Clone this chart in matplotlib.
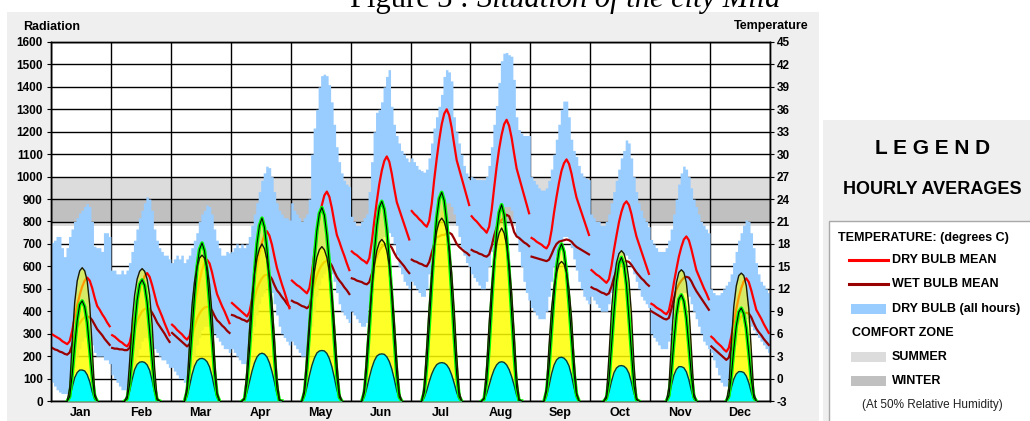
import matplotlib
matplotlib.use("Agg")
import matplotlib.pyplot as plt
from matplotlib.patches import Rectangle
import numpy as np

months = ["Jan", "Feb", "Mar", "Apr", "May", "Jun",
          "Jul", "Aug", "Sep", "Oct", "Nov", "Dec"]

# hourly averages per month, hour 0..23, degrees C
dry_mean = [
    [5.9, 5.7, 5.5, 5.3, 5.0, 4.8, 4.6, 5.0, 6.4, 8.2, 9.8, 11.2, 12.3, 13.1, 13.5, 13.1, 12.1, 10.8, 9.7, 9.2, 8.6, 8.1, 7.5, 7.0],
    [5.8, 5.6, 5.3, 5.0, 4.8, 4.5, 4.3, 4.8, 6.3, 8.2, 10.0, 11.6, 12.8, 13.7, 14.1, 13.6, 12.5, 11.2, 9.9, 9.1, 8.3, 7.4, 6.6, 5.8],
    [7.2, 6.9, 6.5, 6.2, 5.9, 5.5, 5.2, 5.7, 7.3, 9.5, 11.4, 13.1, 14.5, 15.5, 15.9, 15.4, 14.2, 12.7, 11.3, 10.5, 9.7, 9.0, 8.2, 7.4],
    [10.1, 9.8, 9.5, 9.2, 8.9, 8.6, 8.3, 8.9, 10.6, 12.9, 14.9, 16.7, 18.2, 19.2, 19.7, 19.1, 17.9, 16.3, 14.8, 13.7, 12.6, 11.6, 10.5, 9.4],
    [13.1, 12.8, 12.5, 12.3, 12.0, 11.7, 11.4, 12.1, 14.1, 16.8, 19.3, 21.5, 23.2, 24.5, 25.0, 24.3, 22.8, 20.9, 19.2, 18.3, 17.3, 16.4, 15.4, 14.5],
    [17.0, 16.7, 16.5, 16.2, 15.9, 15.7, 15.4, 16.1, 18.3, 21.1, 23.7, 26.0, 27.8, 29.1, 29.7, 29.0, 27.4, 25.4, 23.6, 22.6, 21.6, 20.6, 19.6, 18.6],
    [22.4, 22.0, 21.7, 21.3, 21.0, 20.6, 20.3, 21.1, 23.4, 26.6, 29.4, 31.9, 34.0, 35.4, 36.0, 35.2, 33.5, 31.3, 29.2, 28.0, 26.8, 25.6, 24.4, 23.2],
    [21.7, 21.3, 21.0, 20.6, 20.2, 19.9, 19.5, 20.3, 22.5, 25.5, 28.3, 30.7, 32.6, 34.0, 34.6, 33.8, 32.2, 30.1, 28.1, 26.9, 25.7, 24.5, 23.3, 22.1],
    [18.8, 18.6, 18.3, 18.1, 17.9, 17.6, 17.4, 18.0, 19.8, 22.2, 24.3, 26.2, 27.8, 28.8, 29.3, 28.7, 27.4, 25.7, 24.2, 23.2, 22.2, 21.2, 20.2, 19.2],
    [14.5, 14.2, 13.9, 13.7, 13.4, 13.1, 12.8, 13.3, 15.0, 17.2, 19.1, 20.9, 22.3, 23.3, 23.7, 23.2, 22.0, 20.4, 19.0, 18.0, 17.0, 16.0, 15.0, 14.0],
    [10.0, 9.8, 9.5, 9.3, 9.1, 8.8, 8.6, 9.1, 10.7, 12.8, 14.6, 16.3, 17.6, 18.6, 19.0, 18.5, 17.3, 15.9, 14.5, 13.7, 12.9, 12.1, 11.4, 10.6],
    [5.6, 5.3, 4.9, 4.6, 4.3, 3.9, 3.6, 4.1, 5.6, 7.5, 9.3, 10.9, 12.1, 13.0, 13.4, 12.9, 11.8, 10.5, 9.2, 8.6, 8.0, 7.3, 6.7, 6.1],
]

wet_mean = [
    [4.1, 3.9, 3.8, 3.6, 3.5, 3.3, 3.2, 3.5, 4.5, 5.8, 6.8, 7.4, 7.9, 8.2, 8.3, 8.2, 7.8, 7.2, 6.6, 6.2, 5.8, 5.3, 4.9, 4.5],
    [4.1, 4.0, 4.0, 3.9, 3.9, 3.8, 3.8, 4.1, 5.2, 6.6, 7.7, 8.4, 9.0, 9.3, 9.4, 9.3, 8.8, 8.2, 7.5, 7.0, 6.5, 6.0, 5.4, 4.9],
    [6.1, 5.8, 5.5, 5.2, 4.9, 4.6, 4.3, 4.6, 5.6, 7.0, 8.0, 8.7, 9.2, 9.5, 9.6, 9.5, 9.1, 8.4, 7.8, 7.5, 7.1, 6.8, 6.4, 6.1],
    [8.5, 8.4, 8.2, 8.1, 7.9, 7.8, 7.6, 7.9, 9.2, 10.8, 12.0, 12.8, 13.4, 13.8, 13.9, 13.8, 13.3, 12.5, 11.8, 11.4, 10.9, 10.5, 10.0, 9.6],
    [10.4, 10.2, 10.1, 9.9, 9.7, 9.6, 9.4, 9.7, 11.0, 12.6, 13.8, 14.6, 15.2, 15.6, 15.7, 15.6, 15.1, 14.3, 13.6, 13.1, 12.7, 12.2, 11.8, 11.3],
    [13.4, 13.3, 13.1, 13.0, 12.9, 12.7, 12.6, 12.9, 14.0, 15.3, 16.4, 17.1, 17.6, 17.9, 18.0, 17.9, 17.5, 16.8, 16.2, 15.8, 15.4, 15.0, 14.5, 14.1],
    [15.9, 15.7, 15.6, 15.4, 15.3, 15.1, 15.0, 15.6, 16.8, 18.0, 18.9, 19.0, 19.2, 19.2, 19.4, 19.5, 19.3, 18.7, 18.0, 17.6, 17.3, 17.0, 16.8, 16.5],
    [17.2, 17.0, 16.9, 16.7, 16.6, 16.4, 16.3, 16.6, 17.7, 19.1, 20.2, 20.9, 21.2, 21.5, 21.9, 21.7, 20.8, 19.6, 19.0, 18.8, 18.5, 18.2, 18.0, 17.7],
    [16.3, 16.2, 16.1, 16.0, 15.9, 15.8, 15.7, 15.9, 16.6, 17.4, 18.0, 18.3, 18.4, 18.5, 18.6, 18.5, 18.3, 17.9, 17.6, 17.4, 17.2, 17.0, 16.8, 16.6],
    [12.2, 12.0, 11.9, 11.7, 11.5, 11.4, 11.2, 11.4, 12.3, 13.5, 14.4, 15.0, 15.3, 15.6, 15.7, 15.6, 15.2, 14.7, 14.2, 13.8, 13.4, 13.1, 12.7, 12.4],
    [9.0, 8.8, 8.6, 8.4, 8.2, 8.0, 7.9, 8.1, 9.3, 10.7, 11.9, 12.6, 13.1, 13.5, 13.6, 13.5, 13.0, 12.3, 11.7, 11.2, 10.7, 10.2, 9.7, 9.2],
    [4.3, 4.0, 3.7, 3.4, 3.1, 2.8, 2.5, 2.8, 4.1, 5.7, 6.9, 7.7, 8.3, 8.7, 8.8, 8.7, 8.2, 7.4, 6.7, 6.2, 5.8, 5.3, 4.9, 4.5],
]

# dry bulb range over all hours of the month
dry_low = [
    [-0.5, -1.0, -1.5, -1.8, -2.0, -2.0, -2.0, -1.5, 0.0, 1.5, 3.0, 4.0, 5.0, 5.5, 5.5, 5.0, 4.5, 3.5, 3.0, 3.0, 3.0, 2.5, 2.5, 2.0],
    [0.5, 0.0, -0.5, -1.0, -1.5, -1.5, -1.5, -1.0, 0.0, 1.5, 3.0, 4.0, 5.0, 5.5, 5.5, 5.0, 4.5, 4.0, 3.5, 3.0, 2.5, 2.5, 2.0, 1.5],
    [1.5, 1.0, 0.5, 0.0, 0.0, -0.5, -0.5, 0.0, 1.5, 3.0, 4.5, 5.5, 6.5, 7.0, 7.0, 7.0, 6.5, 6.0, 5.5, 5.0, 4.5, 4.0, 4.0, 3.5],
    [4.0, 3.5, 3.0, 2.5, 2.0, 2.0, 2.0, 3.0, 5.0, 7.0, 8.5, 10.0, 11.0, 11.5, 12.0, 12.0, 11.5, 10.0, 8.5, 7.0, 6.0, 5.5, 5.0, 4.5],
    [5.0, 4.5, 4.0, 3.5, 3.0, 3.0, 3.5, 5.0, 7.0, 9.0, 11.0, 12.5, 13.5, 14.0, 14.5, 14.5, 14.0, 13.0, 11.5, 10.0, 9.0, 8.5, 8.0, 7.5],
    [9.0, 8.5, 8.0, 7.5, 7.0, 7.0, 7.5, 9.5, 12.0, 14.0, 16.0, 17.5, 18.5, 19.0, 19.5, 19.5, 19.0, 18.0, 16.5, 15.0, 14.0, 13.0, 12.5, 12.0],
    [13.0, 12.5, 12.0, 11.5, 11.0, 11.0, 12.0, 14.0, 16.0, 18.0, 20.0, 21.5, 22.5, 23.0, 23.5, 23.5, 23.0, 22.0, 20.5, 19.0, 17.5, 16.5, 15.5, 15.0],
    [14.0, 13.5, 13.0, 12.5, 12.0, 12.0, 13.0, 15.0, 17.0, 19.0, 20.5, 21.5, 22.5, 23.0, 23.0, 23.0, 22.5, 21.0, 19.0, 17.0, 15.0, 13.0, 11.5, 10.5],
    [9.5, 9.0, 8.5, 8.0, 8.0, 8.0, 9.0, 11.0, 13.0, 15.0, 16.5, 17.5, 18.5, 19.0, 19.0, 18.5, 17.5, 16.0, 14.5, 13.0, 12.0, 11.0, 10.5, 10.0],
    [11.0, 10.5, 10.0, 9.5, 9.0, 9.0, 9.0, 10.0, 11.5, 13.0, 14.5, 15.5, 16.0, 16.5, 16.5, 16.0, 15.0, 14.0, 13.0, 12.0, 11.0, 10.5, 10.0, 9.5],
    [6.0, 5.5, 5.0, 4.5, 4.0, 4.0, 4.0, 5.0, 6.5, 8.0, 9.5, 10.5, 11.0, 11.5, 11.5, 11.0, 10.0, 9.0, 8.0, 7.0, 6.0, 5.0, 4.5, 4.0],
    [3.5, 2.5, 1.5, 0.5, -0.5, -1.0, -1.0, 0.0, 1.5, 3.0, 4.5, 6.0, 7.0, 7.5, 8.0, 7.5, 7.0, 6.5, 6.0, 5.5, 5.0, 4.5, 4.0, 3.5],
]

dry_high = [
    [18.2, 18.5, 19.0, 19.0, 17.5, 16.3, 17.5, 19.0, 20.0, 21.0, 21.5, 22.1, 22.5, 23.0, 23.4, 23.0, 21.0, 17.7, 17.5, 17.5, 17.0, 19.5, 19.5, 19.0],
    [14.5, 14.5, 14.0, 14.0, 14.5, 14.0, 14.5, 15.5, 17.0, 18.5, 20.0, 21.5, 22.5, 23.5, 24.3, 24.0, 22.5, 20.0, 18.5, 17.5, 17.0, 16.5, 16.5, 16.0],
    [15.5, 16.0, 16.5, 16.0, 16.5, 15.5, 16.0, 16.5, 17.5, 18.5, 19.5, 21.0, 22.0, 22.5, 23.2, 23.0, 22.0, 20.0, 18.5, 17.5, 16.5, 16.5, 17.0, 16.8],
    [17.0, 17.5, 18.0, 17.5, 18.0, 17.5, 18.0, 19.0, 20.5, 22.0, 23.5, 25.0, 26.5, 27.5, 28.4, 28.2, 27.0, 25.0, 23.5, 22.5, 22.0, 21.5, 21.5, 21.2],
    [23.5, 22.5, 22.0, 21.5, 21.0, 21.5, 22.0, 24.0, 30.0, 33.5, 36.0, 39.0, 40.5, 40.7, 40.5, 39.3, 37.0, 34.0, 31.0, 29.0, 27.5, 26.5, 26.0, 25.7],
    [21.7, 21.0, 20.5, 20.5, 21.0, 21.5, 22.0, 25.0, 29.0, 33.0, 35.6, 36.0, 37.0, 39.0, 40.4, 41.3, 36.4, 34.0, 32.5, 31.5, 30.5, 30.0, 29.5, 29.0],
    [29.5, 29.0, 28.5, 28.0, 27.8, 27.6, 28.0, 29.5, 31.5, 33.5, 35.0, 36.4, 38.0, 40.4, 41.3, 41.0, 39.8, 35.0, 33.0, 31.5, 30.0, 28.5, 27.5, 26.6],
    [27.0, 26.8, 26.6, 26.6, 26.6, 26.6, 27.0, 28.5, 31.0, 34.0, 36.5, 39.6, 42.5, 43.5, 43.6, 43.3, 43.1, 40.0, 35.0, 33.3, 32.8, 32.5, 32.5, 32.5],
    [27.0, 26.5, 26.0, 25.5, 25.2, 25.2, 25.5, 26.5, 28.0, 30.0, 32.0, 34.0, 36.0, 37.1, 37.1, 35.0, 32.0, 30.5, 29.7, 28.5, 27.5, 27.0, 26.8, 26.6],
    [22.0, 21.5, 21.0, 21.0, 20.5, 20.5, 21.0, 22.0, 23.5, 25.0, 26.5, 28.0, 29.5, 30.5, 31.9, 31.5, 29.5, 27.0, 25.0, 23.5, 22.5, 21.5, 21.0, 20.3],
    [18.6, 18.0, 17.5, 17.0, 17.0, 17.0, 17.5, 18.5, 20.0, 22.0, 24.0, 26.0, 27.5, 28.4, 28.0, 27.0, 25.5, 24.0, 23.0, 22.0, 21.0, 20.5, 20.0, 19.5],
    [12.0, 11.5, 11.2, 11.2, 11.5, 12.0, 12.5, 13.0, 14.0, 15.5, 17.0, 18.5, 19.5, 20.5, 21.2, 21.0, 19.5, 17.5, 15.5, 14.0, 13.0, 12.5, 12.0, 11.5],
]

# hourly radiation, Wh/m2
rad_global = [
    [0, 0, 0, 0, 0, 0, 0, 20, 120, 250, 360, 430, 446, 420, 350, 230, 110, 20, 0, 0, 0, 0, 0, 0],
    [0, 0, 0, 0, 0, 0, 10, 75, 205, 335, 450, 520, 540, 515, 440, 315, 185, 60, 5, 0, 0, 0, 0, 0],
    [0, 0, 0, 0, 0, 0, 42, 155, 317, 472, 598, 676, 704, 669, 577, 436, 282, 127, 28, 0, 0, 0, 0, 0],
    [0, 0, 0, 0, 0, 8, 82, 228, 408, 571, 701, 782, 815, 774, 676, 538, 367, 196, 57, 0, 0, 0, 0, 0],
    [0, 0, 0, 0, 0, 34, 147, 310, 483, 638, 759, 836, 862, 828, 741, 612, 448, 267, 112, 17, 0, 0, 0, 0],
    [0, 0, 0, 0, 0, 36, 151, 320, 498, 659, 783, 863, 890, 854, 765, 632, 463, 276, 116, 18, 0, 0, 0, 0],
    [0, 0, 0, 0, 0, 37, 158, 335, 521, 688, 818, 902, 930, 893, 800, 660, 484, 288, 121, 19, 0, 0, 0, 0],
    [0, 0, 0, 0, 0, 9, 88, 245, 438, 613, 753, 840, 875, 831, 726, 578, 394, 210, 61, 0, 0, 0, 0, 0],
    [0, 0, 0, 0, 0, 0, 42, 154, 315, 469, 595, 672, 700, 665, 574, 434, 280, 126, 28, 0, 0, 0, 0, 0],
    [0, 0, 0, 0, 0, 0, 13, 90, 243, 397, 531, 614, 640, 608, 518, 371, 218, 70, 6, 0, 0, 0, 0, 0],
    [0, 0, 0, 0, 0, 0, 0, 24, 128, 265, 383, 454, 473, 445, 369, 246, 114, 19, 0, 0, 0, 0, 0, 0],
    [0, 0, 0, 0, 0, 0, 0, 21, 112, 232, 335, 397, 414, 389, 323, 215, 99, 17, 0, 0, 0, 0, 0, 0],
]

rad_direct = [
    [0, 0, 0, 0, 0, 0, 0, 60, 270, 440, 535, 580, 594, 580, 535, 430, 240, 35, 0, 0, 0, 0, 0, 0],
    [0, 0, 0, 0, 0, 0, 24, 177, 354, 472, 543, 578, 590, 578, 543, 472, 342, 148, 12, 0, 0, 0, 0, 0],
    [0, 0, 0, 0, 0, 0, 65, 260, 429, 533, 598, 637, 650, 637, 598, 520, 390, 195, 39, 0, 0, 0, 0, 0],
    [0, 0, 0, 0, 0, 14, 140, 315, 462, 567, 637, 679, 700, 679, 630, 553, 441, 280, 98, 7, 0, 0, 0, 0],
    [0, 0, 0, 0, 0, 55, 206, 358, 482, 578, 640, 674, 688, 674, 640, 578, 482, 344, 172, 34, 0, 0, 0, 0],
    [0, 0, 0, 0, 0, 58, 216, 374, 504, 605, 670, 706, 720, 706, 670, 605, 504, 360, 180, 36, 0, 0, 0, 0],
    [0, 0, 0, 0, 0, 65, 245, 424, 571, 685, 758, 799, 815, 799, 758, 685, 571, 408, 204, 41, 0, 0, 0, 0],
    [0, 0, 0, 0, 0, 15, 154, 347, 509, 625, 702, 748, 771, 748, 694, 609, 486, 308, 108, 8, 0, 0, 0, 0],
    [0, 0, 0, 0, 0, 0, 62, 249, 411, 510, 572, 610, 622, 610, 572, 498, 373, 187, 37, 0, 0, 0, 0, 0],
    [0, 0, 0, 0, 0, 0, 27, 201, 402, 536, 616, 657, 670, 657, 616, 536, 389, 168, 13, 0, 0, 0, 0, 0],
    [0, 0, 0, 0, 0, 0, 0, 59, 263, 433, 527, 573, 585, 573, 527, 421, 234, 35, 0, 0, 0, 0, 0, 0],
    [0, 0, 0, 0, 0, 0, 0, 57, 257, 422, 513, 559, 570, 559, 513, 410, 228, 34, 0, 0, 0, 0, 0, 0],
]

rad_diffuse = [
    [0, 0, 0, 0, 0, 0, 0, 14, 62, 104, 127, 138, 138, 134, 117, 86, 41, 7, 0, 0, 0, 0, 0, 0],
    [0, 0, 0, 0, 0, 0, 7, 44, 96, 140, 163, 173, 175, 172, 161, 137, 91, 39, 4, 0, 0, 0, 0, 0],
    [0, 0, 0, 0, 0, 0, 19, 67, 118, 156, 179, 188, 190, 186, 175, 152, 110, 57, 15, 0, 0, 0, 0, 0],
    [0, 0, 0, 0, 0, 6, 38, 85, 132, 170, 196, 209, 213, 209, 196, 170, 132, 85, 32, 4, 0, 0, 0, 0],
    [0, 0, 0, 0, 0, 18, 61, 113, 158, 191, 214, 223, 225, 223, 212, 189, 153, 104, 50, 11, 0, 0, 0, 0],
    [0, 0, 0, 0, 0, 17, 57, 105, 147, 179, 200, 208, 210, 208, 197, 176, 143, 97, 46, 11, 0, 0, 0, 0],
    [0, 0, 0, 0, 0, 14, 46, 86, 120, 145, 162, 169, 171, 169, 161, 144, 116, 79, 38, 9, 0, 0, 0, 0],
    [0, 0, 0, 0, 0, 5, 32, 70, 109, 140, 161, 172, 175, 172, 161, 140, 109, 70, 26, 4, 0, 0, 0, 0],
    [0, 0, 0, 0, 0, 0, 20, 68, 121, 160, 183, 193, 195, 191, 179, 156, 113, 59, 16, 0, 0, 0, 0, 0],
    [0, 0, 0, 0, 0, 0, 6, 40, 87, 126, 147, 156, 158, 155, 145, 123, 82, 35, 3, 0, 0, 0, 0, 0],
    [0, 0, 0, 0, 0, 0, 0, 15, 69, 115, 141, 153, 153, 148, 130, 95, 46, 8, 0, 0, 0, 0, 0, 0],
    [0, 0, 0, 0, 0, 0, 0, 13, 59, 98, 121, 131, 131, 127, 111, 81, 39, 7, 0, 0, 0, 0, 0, 0],
]

temp_ticks = list(range(-3, 46, 3))
rad_ticks = list(range(0, 1601, 100))

BOLD = dict(family="Liberation Sans", fontweight="bold")

fig = plt.figure(figsize=(10.30, 4.21), dpi=100, facecolor="white")

# background panels, title, legend, drawn in pixel coordinates
bg = fig.add_axes([0, 0, 1, 1], zorder=0)
bg.set_xlim(0, 1030)
bg.set_ylim(421, 0)
bg.axis("off")
bg.add_patch(Rectangle((7, 12), 812, 412, color="#efefef", lw=0))
bg.add_patch(Rectangle((823, 120), 210, 304, color="#efefef", lw=0))
bg.add_patch(Rectangle((829, 221), 210, 210, facecolor="white",
                       edgecolor="#a8a8a8", lw=1))

# the page title runs off the top edge, as in the source figure
bg.text(350, 7, "Figure 3 : ", family="Liberation Serif", fontsize=22,
        va="baseline", ha="left")
bg.text(477, 7, "Situation of the city Mila", family="Liberation Serif",
        style="italic", fontsize=22, va="baseline", ha="left")

bg.text(23, 27, "Radiation", fontsize=9, va="center", ha="left", **BOLD)
bg.text(809, 26, "Temperature", fontsize=9, va="center", ha="right", **BOLD)

bg.text(933, 149, "L E G E N D", fontsize=15, ha="center", va="center", **BOLD)
bg.text(932, 190, "HOURLY AVERAGES", fontsize=13, ha="center", va="center", **BOLD)
bg.text(838, 238, "TEMPERATURE: (degrees C)", fontsize=9, ha="left", va="center", **BOLD)
bg.plot([849, 888], [260, 260], color="red", lw=2.2)
bg.text(892, 260, "DRY BULB MEAN", fontsize=9, ha="left", va="center", **BOLD)
bg.plot([849, 888], [284, 284], color="#990000", lw=2.2)
bg.text(892, 284, "WET BULB MEAN", fontsize=9, ha="left", va="center", **BOLD)
bg.add_patch(Rectangle((851, 304), 35, 10, color="#99ccff", lw=0))
bg.text(892, 309, "DRY BULB (all hours)", fontsize=9, ha="left", va="center", **BOLD)
bg.text(852, 333, "COMFORT ZONE", fontsize=9, ha="left", va="center", **BOLD)
bg.add_patch(Rectangle((851, 352), 35, 10, color="#dcdcdc", lw=0))
bg.text(892, 357, "SUMMER", fontsize=9, ha="left", va="center", **BOLD)
bg.add_patch(Rectangle((851, 376), 35, 10, color="#c0c0c0", lw=0))
bg.text(892, 381, "WINTER", fontsize=9, ha="left", va="center", **BOLD)
bg.text(932, 405, "(At 50% Relative Humidity)", fontsize=8.5, ha="center",
        va="center", family="Liberation Sans", color="#222222")

# main chart: temperature axes underneath, radiation twin on top
ax = fig.add_axes([51 / 1030, 20 / 421, 719 / 1030, 359 / 421], zorder=1)
ax.set_facecolor("white")
ax.set_xlim(0, 288)
ax.set_ylim(-3, 45)

ax.axhspan(20.4, 27.0, color="#dcdcdc", lw=0, zorder=0.5)
ax.axhspan(21.0, 24.0, color="#c0c0c0", lw=0, zorder=0.6)
for t in temp_ticks:
    ax.axhline(t, color="black", lw=1.0, zorder=1)
for m in range(13):
    ax.axvline(m * 24, color="black", lw=1.0, zorder=1)

# all-hours dry bulb band as one continuous hourly step fill
edges = np.arange(289)
low = np.concatenate([np.array(v) for v in dry_low])
high = np.concatenate([np.array(v) for v in dry_high])
ax.fill_between(edges, np.append(low, low[-1]), np.append(high, high[-1]),
                step="post", color="#99ccff", lw=0, zorder=2)

for i in range(12):
    x = np.arange(24) + i * 24 + 0.5
    ax.plot(x, wet_mean[i], color="#990000", lw=1.6, zorder=3)
    ax.plot(x, dry_mean[i], color="red", lw=1.6, zorder=3)

ax_r = ax.twinx()
ax_r.set_ylim(0, 1600)
ax.yaxis.tick_right()
ax_r.yaxis.tick_left()

for i in range(12):
    g = np.array(rad_global[i], dtype=float)
    d = np.array(rad_direct[i], dtype=float)
    f = np.array(rad_diffuse[i], dtype=float)
    lit = np.nonzero((g + d + f) > 0)[0]
    a, b = max(lit[0] - 1, 0), min(lit[-1] + 1, 23)
    x = np.arange(24)[a:b + 1] + i * 24 + 0.5
    g, d, f = g[a:b + 1], d[a:b + 1], f[a:b + 1]
    ax_r.fill_between(x, 0, d, color="#ffff00", alpha=0.6, lw=0, zorder=4)
    ax_r.fill_between(x, 0, g, color="#ffff00", alpha=0.6, lw=0, zorder=4)
    ax_r.fill_between(x, 0, f, color="#00ffff", lw=0, zorder=5)
    ax_r.plot(x, f, color="#003c3c", lw=1.0, zorder=6)
    ax_r.plot(x, g, color="#00ff00", lw=2.6, zorder=6)
    ax_r.plot(x, g, color="black", lw=0.8, zorder=7)
    ax_r.plot(x, d, color="#1a1a00", lw=1.0, zorder=7)

ax.set_yticks(temp_ticks)
ax.set_yticklabels([str(t) for t in temp_ticks], fontsize=8.5, **BOLD)
ax_r.set_yticks(rad_ticks)
ax_r.set_yticklabels([str(r) for r in rad_ticks], fontsize=8.5, **BOLD)
ax.tick_params(axis="y", length=3, pad=2)
ax_r.tick_params(axis="y", length=3, pad=3)

ax.set_xticks([m * 24 for m in range(13)])
ax.set_xticklabels([])
ax.set_xticks([m * 24 + 12 for m in range(12)], minor=True)
ax.set_xticklabels(months, minor=True, fontsize=9, **BOLD)
ax.tick_params(axis="x", which="both", length=0, pad=4)

for a_ in (ax, ax_r):
    for s in a_.spines.values():
        s.set_color("black")
        s.set_linewidth(1.0)

fig.savefig("out.png", dpi=100, facecolor="white")
